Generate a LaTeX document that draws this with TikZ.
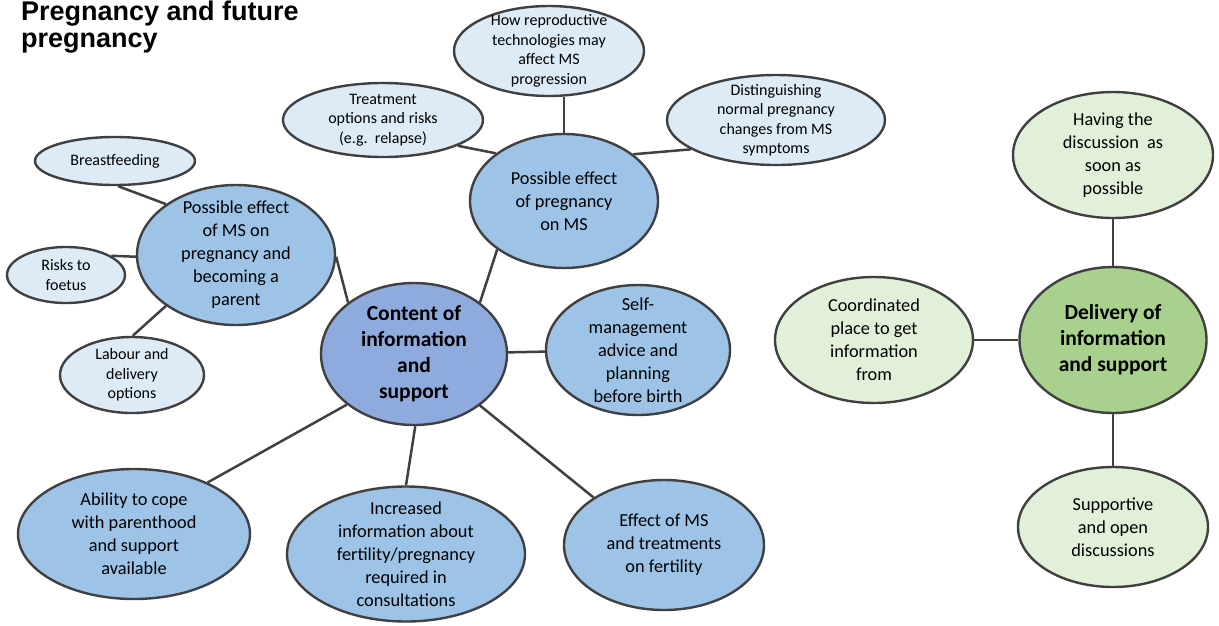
\documentclass[tikz,border=0pt]{standalone}
\usepackage{fontspec}
\setmainfont{Carlito}
\newfontfamily\titlefont{Liberation Sans}
\usetikzlibrary{shapes.geometric}
\definecolor{edgegray}{HTML}{404040}
\definecolor{lightblue}{HTML}{DDEBF7}
\definecolor{medblue}{HTML}{9DC3E6}
\definecolor{mainblue}{HTML}{8FAADC}
\definecolor{lightgreen}{HTML}{E2F0D9}
\definecolor{maingreen}{HTML}{A9D18E}
\begin{document}
\begin{tikzpicture}[x=1pt,y=-1pt,
  bub/.style={ellipse, draw=edgegray, line width=2.4pt, inner sep=-15pt, align=center, text=black},
  sz/.style 2 args={minimum width=#1pt, minimum height=#2pt},
  smallbub/.style={bub, fill=lightblue, font=\fontsize{16}{19.5}\selectfont},
  medbub/.style={bub, fill=medblue, font=\fontsize{18.3}{23}\selectfont},
  mainbub/.style={bub, fill=mainblue, font=\bfseries\fontsize{21.5}{26}\selectfont},
  greenbub/.style={bub, fill=lightgreen, font=\fontsize{18.3}{23}\selectfont},
  greenmain/.style={bub, fill=maingreen, font=\bfseries\fontsize{21.5}{26}\selectfont},
  conn/.style={draw=edgegray, line width=2.5pt}]
\useasboundingbox (0,0) rectangle (1219,625);

\node[anchor=base west, inner sep=0pt, font=\titlefont\bfseries\fontsize{27}{27.5}\selectfont] (title) at (21,20)
  {\begin{tabular}[t]{@{}l@{}}Pregnancy and future\\pregnancy\end{tabular}};

\node[mainbub, sz={186}{142}] (content) at (414,354) {Content of\\information\\and\\support};
\node[medbub, sz={198}{140}] (msp) at (236,255) {Possible effect\\of MS on\\pregnancy and\\becoming a\\parent};
\node[medbub, sz={188}{134}] (pregms) at (564,201) {Possible effect\\of pregnancy\\on MS};
\node[medbub, sz={184}{130}] (self) at (638,350) {Self-\\management\\advice and\\planning\\before birth};
\node[medbub, sz={200}{130}] (fert) at (664,545) {Effect of MS\\and treatments\\on fertility};
\node[medbub, sz={238}{135}] (incr) at (406,554) {Increased\\information about\\fertility/pregnancy\\required in\\consultations};
\node[medbub, sz={232}{130}] (abil) at (134,534) {Ability to cope\\with parenthood\\and support\\available};

\node[smallbub, sz={160}{48}] (breast) at (115,161) {Breastfeeding};
\node[smallbub, sz={118}{56}] (risks) at (66,275) {Risks to\\foetus};
\node[smallbub, sz={144}{76}] (labour) at (132,375) {Labour and\\delivery\\options};
\node[smallbub, sz={200}{74}] (treat) at (383,120) {Treatment\\options and risks\\(e.g.\ \ relapse)};
\node[smallbub, sz={190}{90}] (howrep) at (549,51) {How reproductive\\technologies may\\affect MS\\progression};
\node[smallbub, sz={218}{90}] (dist) at (776,120) {Distinguishing\\normal pregnancy\\changes from MS\\symptoms};

\node[greenbub, sz={200}{126}] (having) at (1113,155) {Having the\\discussion\ \ as\\soon as\\possible};
\node[greenbub, sz={198}{126}] (coord) at (874,340) {Coordinated\\place to get\\information\\from};
\node[greenmain, sz={187}{146}] (deliv) at (1113,340) {Delivery of\\information\\and support};
\node[greenbub, sz={190}{120}] (supp) at (1113,527) {Supportive\\and open\\discussions};

% connectors
\draw[conn] (content.142) -- (msp.-1);
\draw[conn] (content.38) -- (pregms.216);
\draw[conn] (content.1) -- (self.181);
\draw[conn] (content.-38) -- (fert.146);
\draw[conn] (content.-89) -- (incr.90);
\draw[conn] (content.217) -- (abil.35);
\draw[conn] (breast.-83) -- (msp.144);
\draw[conn] (risks.23) -- (msp.181);
\draw[conn] (labour.89) -- (msp.216);
\draw[conn] (treat.-19) -- (pregms.145);
\draw[conn] (dist.199) -- (pregms.34);
\draw[conn] (pregms.north) -- (pregms.north |- howrep.south);
\draw[conn] (deliv) -- (having);
\draw[conn] (deliv) -- (coord);
\draw[conn] (deliv) -- (supp);
\end{tikzpicture}
\end{document}
